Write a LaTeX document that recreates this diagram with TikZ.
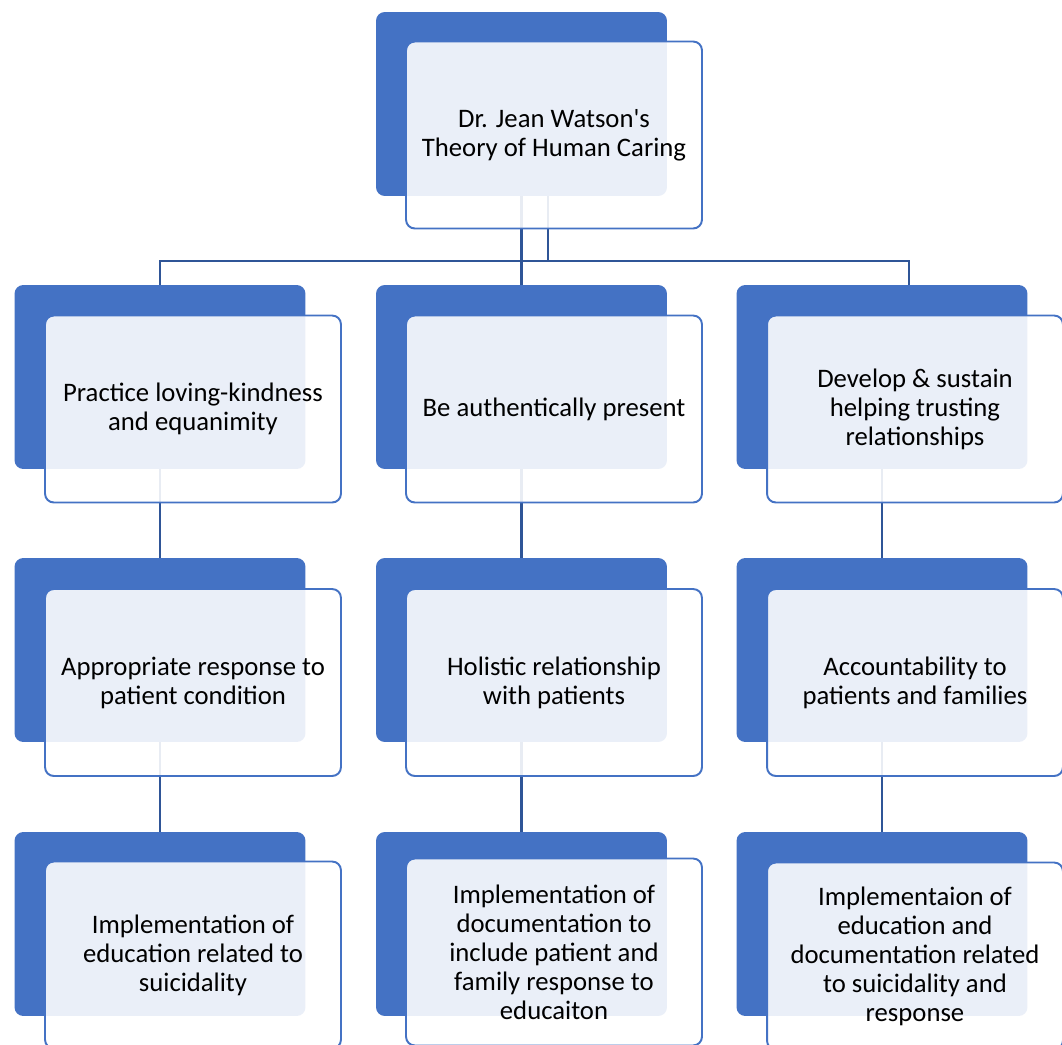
\documentclass[tikz,border=0pt]{standalone}
\usepackage{fontspec}
\setmainfont{Carlito}[Ligatures=TeXOff]
\usepackage{tikz}
\usetikzlibrary{positioning,calc}
\usepackage{xcolor}

\definecolor{accent}{HTML}{4472C4}
\definecolor{wire}{HTML}{2F5597}

\begin{document}
\begin{tikzpicture}[
  x=0.02cm, y=-0.02cm,
  backbox/.style={
    rectangle, rounded corners=5pt, fill=accent, draw=none,
    minimum width=5.82cm, minimum height=3.68cm
  },
  topbox/.style={
    rectangle, rounded corners=5pt, draw=accent, line width=1.1pt,
    fill=white, fill opacity=0.89, text opacity=1,
    minimum width=5.92cm, minimum height=3.74cm, align=center,
    font=\fontsize{15.2}{16.5}\selectfont
  },
  link/.style={wire, line width=1.3pt}
]
\useasboundingbox (0,0) rectangle (1062,1045);

% Dark back boxes
\node[backbox] (b0) at (521.5, 104) {};
\node[backbox] (b1) at (160, 377) {};
\node[backbox] (b2) at (521.5, 377) {};
\node[backbox] (b3) at (882, 377) {};
\node[backbox] (b4) at (160, 650) {};
\node[backbox] (b5) at (521.5, 650) {};
\node[backbox] (b6) at (882, 650) {};
\node[backbox] (b7) at (160, 924) {};
\node[backbox] (b8) at (521.5, 924) {};
\node[backbox] (b9) at (882, 924) {};

% Connectors
\coordinate (hub) at (548, 261);
\coordinate (rdrop) at (909, 285);
\draw[link] (b0.south -| hub) -- (hub);
\draw[link] (b1.north) |- (hub);
\draw[link] (rdrop) |- (hub);
\draw[link] (b0.south) -- (b2.north);
\draw[link] (b1.south) -- (b4.north);
\draw[link] (b2.south) -- (b5.north);
\draw[link] (b3.south) -- (b6.north);
\draw[link] (b4.south) -- (b7.north);
\draw[link] (b5.south) -- (b8.north);
\draw[link] (b6.south) -- (b9.north);

% Front boxes with text
\node[topbox] (t0) at (554, 135) {Dr. Jean Watson's\\Theory of Human Caring};
\node[topbox] (t1) at (193, 409) {Practice loving-kindness\\and equanimity};
\node[topbox] (t2) at (554, 409) {Be authentically present};
\node[topbox] (t3) at (915, 409) {Develop \& sustain\\helping trusting\\relationships};
\node[topbox] (t4) at (193, 682.5) {Appropriate response to\\patient condition};
\node[topbox] (t5) at (554, 682.5) {Holistic relationship\\with patients};
\node[topbox] (t6) at (915, 682.5) {Accountability to\\patients and families};
\node[topbox] (t7) at (193, 955) {Implementation of\\education related to\\suicidality};
\node[topbox] (t8) at (554, 952) {Implementation of\\documentation to\\include patient and\\family response to\\educaiton};
\node[topbox] (t9) at (915, 956) {Implementaion of\\education and\\documentation related\\to suicidality and\\response};

\end{tikzpicture}
\end{document}
